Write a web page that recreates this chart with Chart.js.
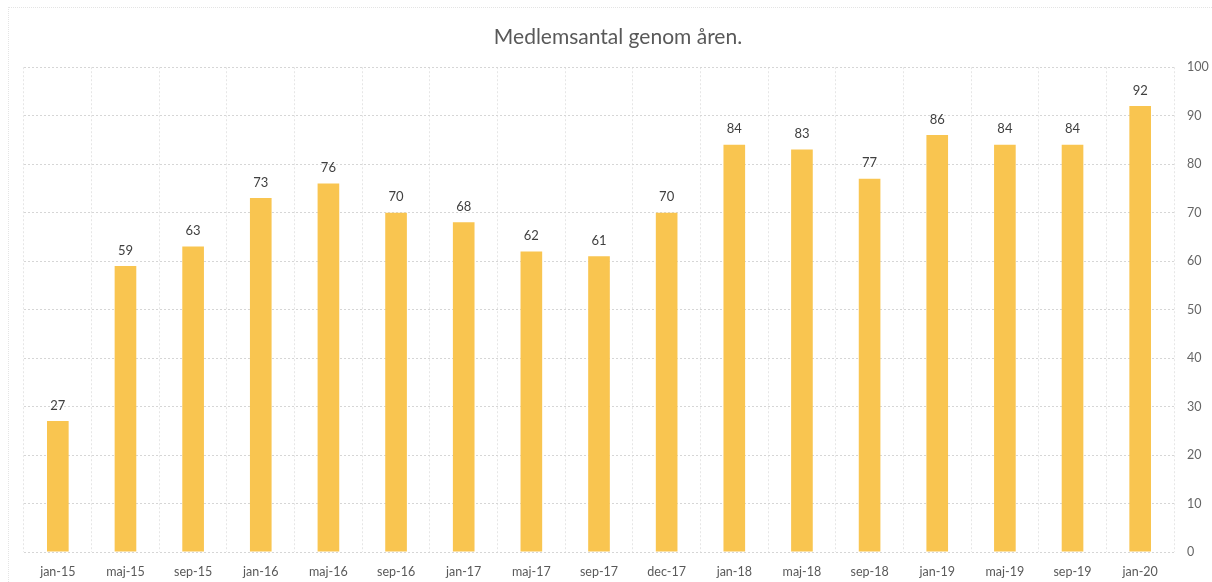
<!DOCTYPE html>
<html>
<head>
<meta charset="utf-8">
<script src="https://cdn.jsdelivr.net/npm/chart.js@4.4.1/dist/chart.umd.min.js"></script>
<style>
  html, body { margin: 0; padding: 0; background: #fff; }
  #wrap { position: relative; width: 1212px; height: 582px; }
  #frame { position: absolute; left: 8px; top: 7px; right: 0; bottom: 0; border-left: 1px dotted #e4e4e4; border-top: 1px dotted #e4e4e4; pointer-events: none; }
</style>
</head>
<body>
<div id="wrap">
  <canvas id="chart" width="1212" height="582"></canvas>
  <div id="frame"></div>
</div>
<script>
const labels = ["jan-15","maj-15","sep-15","jan-16","maj-16","sep-16","jan-17","maj-17","sep-17","dec-17","jan-18","maj-18","sep-18","jan-19","maj-19","sep-19","jan-20"];
const members = [27, 59, 63, 73, 76, 70, 68, 62, 61, 70, 84, 83, 77, 86, 84, 84, 92];
const yTicks = [0, 10, 20, 30, 40, 50, 60, 70, 80, 90, 100];

const fontFamily = "Lato, 'Open Sans', sans-serif";

// draws the value above each bar
const valueLabels = {
  id: "valueLabels",
  afterDatasetsDraw(chart) {
    const ctx = chart.ctx;
    const meta = chart.getDatasetMeta(0);
    ctx.save();
    ctx.font = "13px " + fontFamily;
    ctx.fillStyle = "#404040";
    ctx.textAlign = "center";
    ctx.textBaseline = "bottom";
    meta.data.forEach((bar, i) => {
      ctx.fillText(String(members[i]), bar.x, bar.y - 9);
    });
    ctx.restore();
  }
};

new Chart(document.getElementById("chart"), {
  type: "bar",
  data: {
    labels: labels,
    datasets: [{
      data: members,
      backgroundColor: "#F9C550",
      barPercentage: 0.32,
      categoryPercentage: 1
    }]
  },
  options: {
    responsive: false,
    animation: false,
    layout: { padding: { left: 24, right: 0, top: 0, bottom: 0 } },
    plugins: {
      legend: { display: false },
      tooltip: { enabled: false },
      title: {
        display: true,
        text: "Medlemsantal genom åren.",
        color: "#595959",
        font: { family: fontFamily, size: 21, weight: "normal" },
        padding: { top: 25, bottom: 17 }
      }
    },
    scales: {
      x: {
        grid: { color: "#e6e6e6", drawTicks: false, offset: true },
        border: { display: false, dash: [2, 2] },
        ticks: { color: "#595959", font: { family: fontFamily, size: 12.5 }, padding: 12, maxRotation: 0, autoSkip: false },
        afterFit(scale) { scale.height = 30; }
      },
      y: {
        position: "right",
        min: 0,
        max: 100,
        afterBuildTicks(scale) { scale.ticks = yTicks.map(v => ({ value: v })); },
        grid: { color: "#d6d6d6", drawTicks: false },
        border: { display: false, dash: [2, 2] },
        ticks: { color: "#666666", font: { family: fontFamily, size: 12.5 }, padding: 13 },
        afterFit(scale) { scale.width = 38; }
      }
    }
  },
  plugins: [valueLabels]
});
</script>
</body>
</html>
